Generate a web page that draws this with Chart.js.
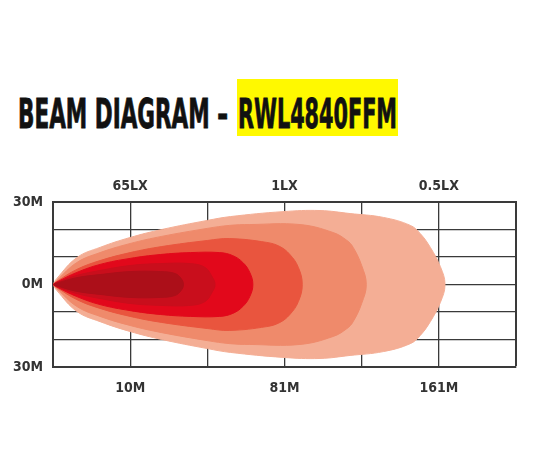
<!DOCTYPE html>
<html>
<head>
<meta charset="utf-8">
<script src="https://cdn.jsdelivr.net/npm/chart.js@4.4.1/dist/chart.umd.min.js"></script>
<style>
  html, body { margin: 0; padding: 0; background: #fff; }
  #wrap { position: relative; width: 540px; height: 458px; overflow: hidden; }
  #chart { position: absolute; left: 0; top: 0; }
  .title {
    position: absolute; top: 94px;
    font-family: 'DejaVu Sans Condensed', 'DejaVu Sans', sans-serif;
    font-stretch: condensed;
    font-weight: bold; font-size: 40px; line-height: 40px;
    color: #111; white-space: nowrap; transform-origin: 0 0;
    -webkit-text-stroke: 0.8px #111;
  }
  #highlight { position: absolute; left: 237px; top: 79px; width: 161px; height: 57px; background: #fff900; }
</style>
</head>
<body>
<div id="wrap">
  <div id="highlight"></div>
  <span class="title" id="t1" style="left:18px">BEAM DIAGRAM –</span>
  <span class="title" id="t2" style="left:238px">RWL4840FFM</span>
  <canvas id="chart" width="540" height="458"></canvas>
</div>
<script>
// grid columns 0..6, labels sit on columns 1, 3 and 5
const labelCols = [1, 3, 5];
const distLabels = ["10M", "81M", "161M"];
const luxLabels = ["65LX", "1LX", "0.5LX"];
const sideTicks = [30, 0, -30];
const sideLabels = ["30M", "0M", "30M"];

// beam zones: distance (grid columns) and half width (m) of the upper edge
const coreDist = [0, 0.05, 0.31, 0.61, 1.0, 1.39, 1.58, 1.66, 1.69];
const coreHalf = [0, 0.5, 2.5, 3.6, 4.7, 4.7, 4.0, 2.2, 0];

const innerDist = [0, 0.05, 0.31, 0.61, 1.0, 1.39, 1.78, 1.97, 2.06, 2.10];
const innerHalf = [0, 0.7, 3.3, 5.1, 6.9, 7.6, 7.6, 6.2, 2.9, 0];

const hotDist = [0, 0.05, 0.31, 0.61, 1.0, 1.39, 1.78, 2.16, 2.33, 2.46, 2.55, 2.59];
const hotHalf = [0, 0.9, 4.4, 7.3, 9.5, 10.9, 11.6, 11.6, 10.5, 8.0, 4.4, 0];

const midDist = [0, 0.05, 0.31, 0.61, 1.0, 1.41, 2.0, 2.29, 2.77, 2.94, 3.07, 3.18, 3.23];
const midHalf = [0, 1.1, 5.5, 8.7, 11.6, 13.8, 16.0, 16.7, 15.3, 13.8, 10.9, 6.2, 0];

const wideDist = [0, 0.05, 0.31, 0.61, 1.0, 1.41, 2.0, 2.29, 2.55, 3.2, 3.63, 3.81, 3.89, 4.0, 4.06];
const wideHalf = [0, 1.5, 8.0, 11.6, 14.9, 17.5, 20.4, 21.5, 21.8, 21.8, 18.9, 16.0, 13.5, 6.9, 0];

const outerDist = [0, 0.05, 0.31, 0.61, 1.0, 1.41, 2.0, 2.3, 2.98, 3.46, 3.85, 4.28, 4.63, 4.76, 4.89, 5.02, 5.08];
const outerHalf = [0, 2.2, 9.8, 13.5, 17.1, 20.0, 23.3, 24.7, 26.5, 26.9, 25.8, 24.4, 21.5, 18.5, 13.5, 6.5, 0];

const FONT = "'DejaVu Sans Condensed', 'DejaVu Sans', sans-serif";
const GRID = "#3a3a3a";

// beam is symmetric: go out along the top edge, come back along the bottom
function outline(dist, half) {
    const top = dist.map((x, i) => ({ x: x, y: half[i] }));
    const bottom = dist.map((x, i) => ({ x: x, y: -half[i] })).reverse().slice(1);
    return top.concat(bottom);
}

function zone(dist, half, color, order) {
    return {
        data: outline(dist, half),
        backgroundColor: color,
        borderColor: color,
        borderWidth: 1,
        pointRadius: 0,
        tension: 0.4,
        fill: "shape",
        order: order,
    };
}

function colLabel(labels) {
    return (v) => {
        const i = labelCols.indexOf(v);
        return i >= 0 ? labels[i] : "";
    };
}

// "condensed" rides along in the weight slot of the canvas font string
const tickFont = { family: FONT, size: 14, weight: "bold condensed" };

new Chart(document.getElementById("chart"), {
    type: "line",
    data: {
        datasets: [
            zone(outerDist, outerHalf, "#F4AE95", 6),
            zone(wideDist, wideHalf, "#EF8A6B", 5),
            zone(midDist, midHalf, "#E9553E", 4),
            zone(hotDist, hotHalf, "#E2081B", 3),
            zone(innerDist, innerHalf, "#C90E1C", 2),
            zone(coreDist, coreHalf, "#AC0F19", 1),
        ],
    },
    options: {
        responsive: false,
        animation: false,
        layout: { padding: { left: 0, right: 24, top: 0, bottom: 0 } },
        plugins: { legend: { display: false }, tooltip: { enabled: false } },
        scales: {
            x: {
                type: "linear", position: "bottom", min: 0, max: 6,
                afterFit: (s) => { s.height = 91; },
                grid: {
                    color: GRID, drawTicks: false,
                    lineWidth: (c) => (c.tick && c.tick.value === 6 ? 2 : 1.3),
                },
                border: { color: GRID, width: 2 },
                ticks: {
                    stepSize: 1, autoSkip: false, maxRotation: 0, padding: 13,
                    color: "#333", font: tickFont, callback: colLabel(distLabels),
                },
            },
            x2: {
                type: "linear", position: "top", min: 0, max: 6,
                afterFit: (s) => { s.height = 202; },
                grid: { display: false, drawTicks: false },
                border: { color: GRID, width: 2 },
                ticks: {
                    stepSize: 1, autoSkip: false, maxRotation: 0, padding: 7,
                    color: "#333", font: tickFont, callback: colLabel(luxLabels),
                },
            },
            y: {
                type: "linear", min: -30, max: 30,
                afterFit: (s) => { s.width = 53; },
                grid: { color: GRID, lineWidth: 1.3, drawTicks: false },
                border: { color: GRID, width: 2 },
                ticks: {
                    stepSize: 10, padding: 10, color: "#333", font: tickFont,
                    callback: (v) => {
                        const i = sideTicks.indexOf(v);
                        return i >= 0 ? sideLabels[i] : "";
                    },
                },
            },
        },
    },
});

function fit(id, w) {
    const el = document.getElementById(id);
    el.style.transform = "scaleX(" + w / el.getBoundingClientRect().width + ")";
}
fit("t1", 210);
fit("t2", 159);
</script>
</body>
</html>
